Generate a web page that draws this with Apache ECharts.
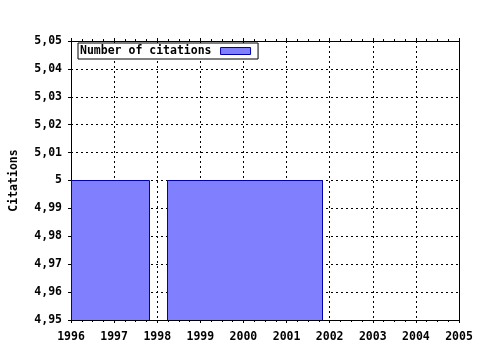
<!DOCTYPE html>
<html>
<head>
<meta charset="utf-8">
<script src="https://cdn.jsdelivr.net/npm/echarts@6/dist/echarts.min.js"></script>
<style>html,body{margin:0;padding:0;background:#fff;}#c{width:480px;height:350px;}</style>
</head>
<body>
<div id="c"></div>
<script>
const seriesName = 'Number of citations';
const barStarts = [1996, 1998.22];
const barEnds = [1997.82, 2001.82];
const barValues = [5, 5];
const xTicks = [1996, 1997, 1998, 1999, 2000, 2001, 2002, 2003, 2004, 2005];
const yTicks = [4.95, 4.96, 4.97, 4.98, 4.99, 5, 5.01, 5.02, 5.03, 5.04, 5.05];
const yAxisName = 'Citations';

const FONT = 'DejaVu Sans Mono';
const yMin = yTicks[0], yMax = yTicks[yTicks.length - 1];
const xMin = xTicks[0], xMax = xTicks[xTicks.length - 1];

function fmtY(v) {
  let s = (Math.round(v * 100) / 100).toFixed(2).replace(/0+$/, '').replace(/\.$/, '');
  return s.replace('.', ',');
}

const chart = echarts.init(document.getElementById('c'), null, {renderer: 'canvas'});
const grid = {left: 70, right: 21, top: 41, bottom: 30};
const dotted = {type: [2, 3], color: '#000', width: 1};
chart.setOption({
  animation: false,
  backgroundColor: '#fff',
  grid: grid,
  legend: {
    left: 78, top: 43,
    orient: 'horizontal',
    data: [{name: seriesName, icon: 'rect'}],
    itemWidth: 30, itemHeight: 7,
    itemGap: 0,
    padding: [2, 7, 2, 2],
    borderColor: '#000', borderWidth: 1, borderRadius: 0,
    backgroundColor: '#fff',
    textStyle: {fontFamily: FONT, fontWeight: 'bold', fontSize: 11.5, color: '#000', padding: [0, 4, 0, 0]},
    formatter: n => n,
    align: 'right',
    itemStyle: {color: '#8080ff', borderColor: '#0000b0', borderWidth: 1}
  },
  xAxis: [{
    type: 'value', min: xMin, max: xMax, interval: 1,
    axisLine: {show: true, onZero: false, lineStyle: {color: '#000', width: 1}},
    axisTick: {show: true, inside: false, length: 3, lineStyle: {color: '#000'}},
    minorTick: {show: true, splitNumber: 4, length: 2, lineStyle: {color: '#000'}},
    axisLabel: {fontFamily: FONT, fontWeight: 'bold', fontSize: 11.5, color: '#000', margin: 11, formatter: v => String(v)},
    splitLine: {show: true, lineStyle: dotted}
  }, {
    type: 'value', position: 'top', min: xMin, max: xMax, interval: 1,
    axisLine: {show: true, onZero: false, lineStyle: {color: '#000', width: 1}},
    axisTick: {show: true, inside: false, length: 3, lineStyle: {color: '#000'}},
    minorTick: {show: true, splitNumber: 4, length: 2, lineStyle: {color: '#000'}},
    axisLabel: {show: false},
    splitLine: {show: false}
  }],
  yAxis: [{
    type: 'value', min: yMin, max: yMax, interval: 0.01,
    name: yAxisName, nameLocation: 'middle', nameGap: 51, nameRotate: 90,
    nameTextStyle: {fontFamily: FONT, fontWeight: 'bold', fontSize: 11.5, color: '#000'},
    axisLine: {show: true, onZero: false, lineStyle: {color: '#000', width: 1}},
    axisTick: {show: true, inside: false, length: 3, lineStyle: {color: '#000'}},
    axisLabel: {fontFamily: FONT, fontWeight: 'bold', fontSize: 11.5, color: '#000', margin: 9, formatter: fmtY},
    splitLine: {show: true, lineStyle: dotted}
  }, {
    type: 'value', position: 'right', min: yMin, max: yMax, interval: 0.01,
    axisLine: {show: true, onZero: false, lineStyle: {color: '#000', width: 1}},
    axisTick: {show: false}, axisLabel: {show: false}, splitLine: {show: false}
  }],
  series: [{
    name: seriesName,
    type: 'custom',
    xAxisIndex: 0, yAxisIndex: 0,
    clip: true,
    itemStyle: {color: '#8080ff', borderColor: '#0000b0', borderWidth: 1},
    encode: {x: [0, 1], y: 2},
    data: barStarts.map((s, i) => [s, barEnds[i], barValues[i]]),
    renderItem: function (params, api) {
      const p0 = api.coord([api.value(0), api.value(2)]);
      const p1 = api.coord([api.value(1), yMin]);
      const cs = params.coordSys;
      const rect = echarts.graphic.clipRectByRect({
        x: Math.round(p0[0]) + 0.5, y: Math.round(p0[1]) + 0.5,
        width: Math.round(p1[0] - p0[0]), height: Math.round(p1[1] - p0[1])
      }, {x: cs.x, y: cs.y, width: cs.width + 1, height: cs.height + 1});
      return rect && {
        type: 'rect', shape: rect,
        style: {fill: '#8080ff', stroke: '#0000b0', lineWidth: 1}
      };
    }
  }]
});
</script>
</body>
</html>
